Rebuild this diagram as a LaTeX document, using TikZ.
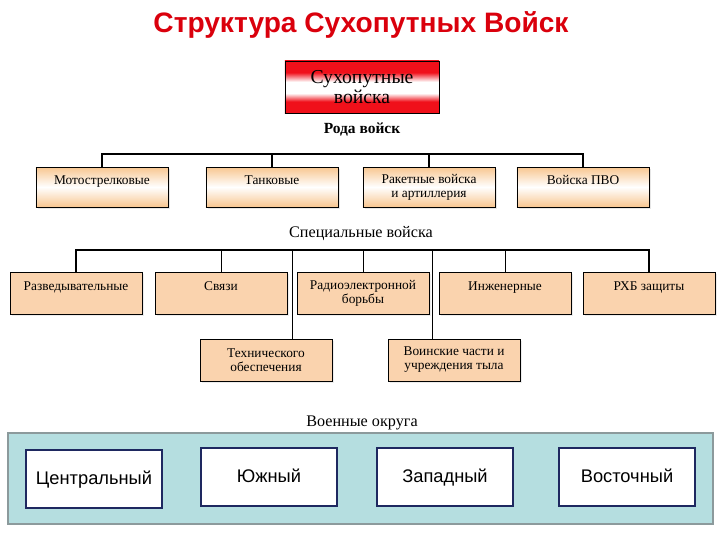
\documentclass[tikz,border=0pt]{standalone}
\usepackage{fontspec}
\setmainfont{Liberation Serif}
\newfontfamily\arialfont{Liberation Sans}
\usepackage{xcolor}
\usepackage{tikz}
\usetikzlibrary{positioning,shadows,calc}

\definecolor{titlered}{HTML}{DA000C}
\definecolor{peach}{HTML}{F8C690}
\definecolor{peachflat}{HTML}{FAD3AE}
\definecolor{panelblue}{HTML}{B5DEE0}
\definecolor{panelgray}{HTML}{8C9A9C}
\definecolor{navy}{HTML}{1E2860}
\definecolor{boxred}{HTML}{F0101A}

\pgfdeclareverticalshading{redband}{100bp}{color(0bp)=(boxred); color(36bp)=(boxred);
  color(44bp)=(white); color(55bp)=(white); color(64bp)=(boxred); color(100bp)=(boxred)}

\begin{document}
\begin{tikzpicture}[x=0.025cm,y=-0.025cm,
  rodbox/.style={rectangle,draw,line width=0.6pt,align=center,minimum width=33mm,minimum height=10mm,
    top color=peach,bottom color=peach,middle color=white,font=\fontsize{9.5}{10}\selectfont,
    drop shadow={opacity=0.2,shadow xshift=1.5pt,shadow yshift=-1.5pt}},
  specbox/.style={rectangle,draw,line width=0.6pt,align=center,minimum width=33mm,minimum height=10.5mm,
    fill=peachflat,font=\fontsize{9.5}{10}\selectfont,
    drop shadow={opacity=0.15,shadow xshift=1.5pt,shadow yshift=-1.5pt}},
  hi/.style={text depth=3.6mm},
  okrbox/.style={rectangle,draw=navy,line width=1.1pt,fill=white,minimum width=34mm,minimum height=14.5mm,
    text height=2.2ex,text depth=0.6ex,font=\arialfont\fontsize{13}{15}\selectfont},
  caption/.style={font=\fontsize{11.5}{13}\selectfont},
  tree/.style={line width=0.8pt},
  thin/.style={line width=0.6pt}
]
\useasboundingbox (0,0) rectangle (720,540);

\node[font=\arialfont\bfseries\fontsize{20}{22}\selectfont,text=titlered] (title) at (361,25) {Структура Сухопутных Войск};

\node[rectangle,draw,line width=0.6pt,align=center,minimum width=38.5mm,minimum height=13mm,
  shading=redband,font=\fontsize{14}{14.5}\selectfont] (sv) at (362,87) {Сухопутные\\войска};
\node[caption,font=\bfseries\fontsize{11}{13}\selectfont] (rod) at (362,130) {Рода войск};

\node[rodbox,hi] (m1) at (102,187) {Мотострелковые};
\node[rodbox,hi] (m2) at (272,187) {Танковые};
\node[rodbox] (m3) at (429,187) {Ракетные войска\\и артиллерия};
\node[rodbox,hi] (m4) at (583,187) {Войска ПВО};

\coordinate (rb) at (360,154);
\draw[tree] (m1.north) |- (rb) -| (m4.north);
\draw[tree] (m2.north) -- (m2.north |- rb);
\draw[tree] (m3.north) -- (m3.north |- rb);

\node[caption] (spec) at (361,234) {Специальные войска};

\node[specbox,hi] (s1) at (76,293) {Разведывательные};
\node[specbox,hi] (s2) at (221,293) {Связи};
\node[specbox] (s3) at (363,293) {Радиоэлектронной\\борьбы};
\node[specbox,hi] (s4) at (505,293) {Инженерные};
\node[specbox,hi] (s5) at (649,293) {РХБ защиты};

\node[specbox] (t1) at (266,360) {Технического\\обеспечения};
\node[specbox] (t2) at (454,360) {Воинские части и\\учреждения тыла};

\coordinate (sb) at (360,250);
\coordinate (b1) at (292,250);
\coordinate (b2) at (432,250);
\draw[line width=1.4pt] (s1.north) |- (sb) -| (s5.north);
\draw[thin] (s2.north) -- (s2.north |- sb);
\draw[thin] (s3.north) -- (s3.north |- sb);
\draw[thin] (s4.north) -- (s4.north |- sb);
\draw[thin] (b1) -- (b1 |- t1.north);
\draw[thin] (b2) -- (b2 |- t2.north);

\node[caption] (okr) at (362,423) {Военные округа};

\node[rectangle,draw=panelgray,line width=1.2pt,fill=panelblue,minimum width=176.25mm,minimum height=22.75mm] (panel) at (360.5,478.5) {};

\node[okrbox] (d1) at (94,479) {Центральный};
\node[okrbox] (d2) at (269,477) {Южный};
\node[okrbox] (d3) at (445,477) {Западный};
\node[okrbox] (d4) at (627,477) {Восточный};
\end{tikzpicture}
\end{document}
